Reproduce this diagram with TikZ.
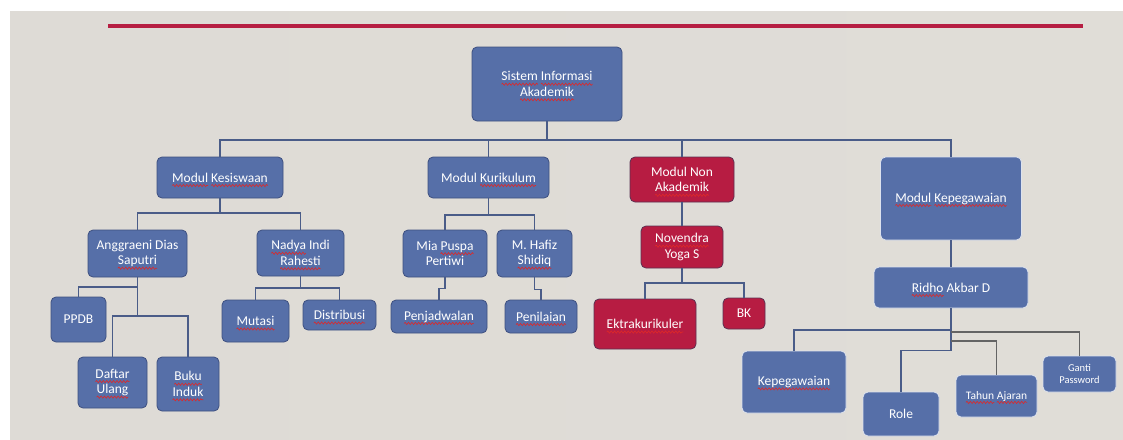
\documentclass[tikz,border=0pt]{standalone}
\usepackage{fontspec}
\setmainfont{Carlito}
\usetikzlibrary{calc,decorations.pathmorphing}
\definecolor{bfill}{RGB}{86,111,168}
\definecolor{bdraw}{RGB}{62,80,128}
\definecolor{rfill}{RGB}{183,28,66}
\definecolor{rdraw}{RGB}{92,50,82}
\definecolor{lcol}{RGB}{74,92,136}
\definecolor{gcol}{RGB}{100,100,100}
\definecolor{redline}{RGB}{182,30,66}
\definecolor{squig}{RGB}{222,40,40}
\definecolor{bgA}{RGB}{222,219,214}
\definecolor{bgB}{RGB}{236,234,230}
\definecolor{bgC}{RGB}{224,221,215}
\newsavebox\sqbox
\newcommand\sq[1]{\sbox\sqbox{#1}\rlap{\tikz[overlay, x=1pt, y=1pt]\draw[draw=squig, line width=0.6pt, sharp corners, decorate, decoration={snake, amplitude=1.1pt, segment length=3.4pt}] (0pt,-3.4pt) -- (\wd\sqbox,-3.4pt);}\usebox\sqbox}
\tikzset{
  box/.style={rectangle, rounded corners=5pt, fill=bfill, draw=bdraw, line width=0.8pt,
    text=white, inner sep=1pt, align=center, font=\fontsize{13.5}{15.5}\selectfont},
  rbox/.style={box, fill=rfill, draw=rdraw},
  wbox/.style={box, draw=white!80!bfill},
  conn/.style={draw=lcol, line width=1.4pt},
  gconn/.style={draw=gcol, line width=1.4pt}
}
\begin{document}
\begin{tikzpicture}[x=1pt,y=-1pt]
\useasboundingbox (0,0) rectangle (1123,439);
\fill[white] (0,0) rectangle (1123,439);
\shade[left color=bgA, middle color=bgB, right color=bgC] (10,11) rectangle (1123,439);
\draw[redline, line width=4pt] (108,26) -- (1083,26);

% level 0
\node[box, minimum width=150pt, minimum height=74pt] (sia) at (547,84) {\sq{Sistem} \sq{Informasi}\\\sq{Akademik}};
% level 1
\node[box, minimum width=126pt, minimum height=41pt] (mk) at (220,177.5) {\sq{Modul} \sq{Kesiswaan}};
\node[box, minimum width=121pt, minimum height=41pt] (mkur) at (488.5,177.5) {Modul \sq{Kurikulum}};
\node[rbox, minimum width=104pt, minimum height=45pt] (mna) at (682,179.5) {Modul Non\\\sq{Akademik}};
\node[wbox, minimum width=141pt, minimum height=83pt] (mkep) at (951,198.5) {\sq{Modul} \sq{Kepegawaian}};
% level 2
\node[box, minimum width=99pt, minimum height=47pt] (ang) at (137.5,253.5) {Anggraeni Dias\\\sq{Saputri}};
\node[box, minimum width=87pt, minimum height=46pt] (nad) at (300.5,253) {\sq{Nadya} Indi\\\sq{Rahesti}};
\node[box, minimum width=84pt, minimum height=47pt] (mia) at (445,253.5) {Mia \sq{Puspa}\\Pertiwi};
\node[box, minimum width=75pt, minimum height=47pt] (haf) at (534.5,253.5) {M. Hafiz\\\sq{Shidiq}};
\node[rbox, minimum width=82pt, minimum height=42pt] (nov) at (682,247) {\sq{Novendra}\\Yoga S};
\node[wbox, minimum width=154pt, minimum height=41pt] (rid) at (951,287.5) {\sq{Ridho} Akbar D};
% level 3
\node[box, minimum width=55pt, minimum height=45pt] (ppdb) at (78.5,319.5) {PPDB};
\node[box, minimum width=69pt, minimum height=51pt] (daf) at (112.5,382.5) {\sq{Daftar}\\\sq{Ulang}};
\node[box, minimum width=62pt, minimum height=54pt] (buku) at (188,384) {\sq{Buku}\\\sq{Induk}};
\node[box, minimum width=67pt, minimum height=42pt] (mut) at (255.5,321) {\sq{Mutasi}};
\node[box, minimum width=73pt, minimum height=30pt] (dis) at (339.5,315) {\sq{Distribusi}};
\node[box, minimum width=96pt, minimum height=33pt] (penj) at (439,316.5) {\sq{Penjadwalan}};
\node[box, minimum width=72pt, minimum height=33pt] (peni) at (541,316.5) {\sq{Penilaian}};
\node[rbox, minimum width=102pt, minimum height=50pt] (ekst) at (645,324) {\sq{Ektrakurikuler}};
\node[rbox, minimum width=42pt, minimum height=31pt] (bk) at (744,313.5) {BK};
\node[wbox, minimum width=104pt, minimum height=62pt] (kep) at (794,382) {\sq{Kepegawaian}};
\node[wbox, minimum width=76pt, minimum height=44pt] (role) at (901,414) {Role};
\node[wbox, minimum width=81pt, minimum height=42pt, font=\fontsize{11.5}{13}\selectfont] (tah) at (996.5,396) {\sq{Tahun} \sq{Ajaran}};
\node[wbox, minimum width=73pt, minimum height=36pt, font=\fontsize{10.5}{12.5}\selectfont] (gan) at (1079.5,374) {Ganti\\Password};

% connectors
\coordinate (bus0) at (547,140);
\draw[conn] (sia.south) -- (bus0);
\draw[conn] (mk.north) |- (bus0) -| (mkep.north);
\draw[conn] (mkur.north) -- (mkur.north |- bus0);
\draw[conn] (mna.north) -- (mna.north |- bus0);

\draw[conn] (mk.south) -- (mk.south |- 0,213);
\draw[conn] (ang.north) |- (mk.south |- 0,213) -| (nad.north);
\draw[conn] (ang.south) -- (ang.south |- 0,316);
\draw[conn] (ppdb.north) |- (ang.south |- 0,287);
\draw[conn] (daf.north) |- (ang.south |- 0,316) -| (buku.north);
\draw[conn] (nad.south) -- (nad.south |- 0,288);
\draw[conn] (mut.north) |- (nad.south |- 0,288) -| (dis.north);

\draw[conn] (mkur.south) -- (mkur.south |- 0,215);
\draw[conn] (mia.north) |- (mkur.south |- 0,215) -| (haf.north);
\draw[conn] (mia.south) -- ++(0,11) -| (penj.north);
\draw[conn] (haf.south) -- ++(0,12) -| (peni.north);

\draw[conn] (mna.south) -- (nov.north);
\draw[conn] (nov.south) -- (nov.south |- 0,283);
\draw[conn] (ekst.north) |- (nov.south |- 0,283) -| (bk.north);

\draw[conn] (mkep.south) -- (rid.north);
\draw[conn] (rid.south) -- ++(0,42) -| (role.north);
\draw[conn] (kep.north) |- (rid.south |- 0,330);
\draw[gconn] (gan.north) |- (rid.south |- 0,332);
\draw[gconn] (tah.north) |- (rid.south |- 0,341);
\end{tikzpicture}
\end{document}
